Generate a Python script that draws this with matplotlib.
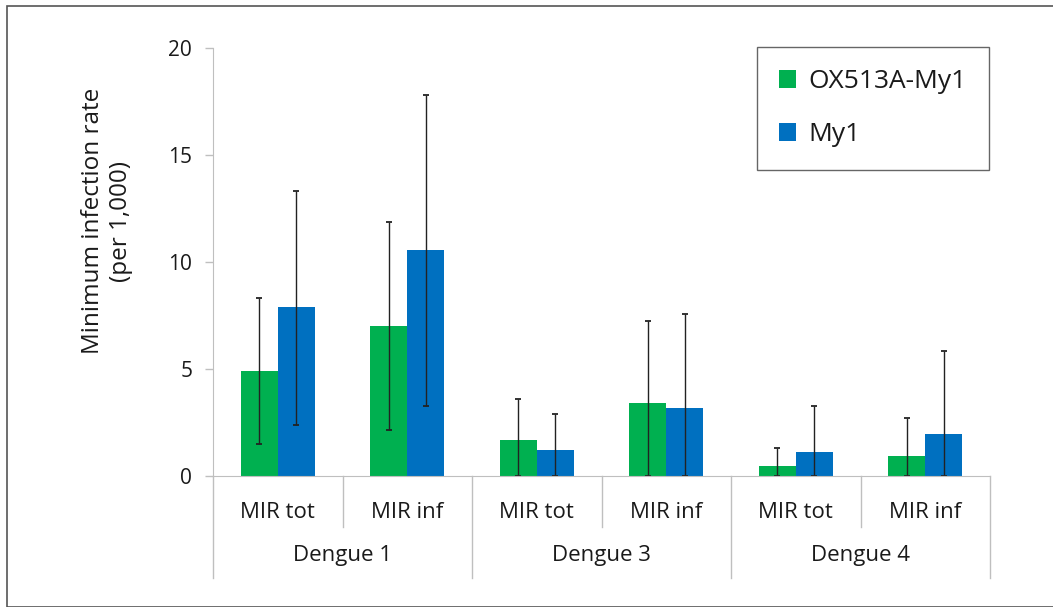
import numpy as np
import matplotlib
matplotlib.use("Agg")
import matplotlib.pyplot as plt
from matplotlib.patches import Rectangle

plt.rcParams['font.family'] = ['Open Sans', 'DejaVu Sans']

# values
groups = ["Dengue 1", "Dengue 3", "Dengue 4"]
measures = ["MIR tot", "MIR inf"]
series_names = ["OX513A-My1", "My1"]

ox513a = [4.9, 7.0, 1.7, 3.4, 0.45, 0.92]
ox513a_lo = [1.5, 2.15, 0.0, 0.0, 0.0, 0.0]
ox513a_hi = [8.3, 11.85, 3.6, 7.25, 1.3, 2.72]

my1 = [7.9, 10.55, 1.2, 3.2, 1.1, 1.97]
my1_lo = [2.4, 3.25, 0.0, 0.0, 0.0, 0.0]
my1_hi = [13.3, 17.8, 2.88, 7.58, 3.28, 5.85]

green = "#00B050"
blue = "#0070C0"
grid_col = "#BFBFBF"
txt_col = "#1a1a1a"

W, H = 1053, 607
fig = plt.figure(figsize=(W / 100, H / 100), dpi=100)
ax = fig.add_axes([213 / W, 1 - 476 / H, (990 - 213) / W, (476 - 48) / H])

x = np.arange(len(ox513a))
bw = 0.287

def errs(v, lo, hi):
    v = np.array(v)
    return np.vstack([v - np.array(lo), np.array(hi) - v])

ekw = dict(elinewidth=1.0, capsize=2.5, capthick=1.3, ecolor="#222222")
ax.bar(x - bw / 2, ox513a, bw, color=green, label=series_names[0],
       yerr=errs(ox513a, ox513a_lo, ox513a_hi), error_kw=ekw)
ax.bar(x + bw / 2, my1, bw, color=blue, label=series_names[1],
       yerr=errs(my1, my1_lo, my1_hi), error_kw=ekw)

ax.set_xlim(-0.5, len(x) - 0.5)
ax.set_ylim(0, 20)
ax.set_yticks([0, 5, 10, 15, 20])
ax.tick_params(axis='y', labelsize=15, length=6, width=1, color=grid_col,
               pad=9, labelcolor=txt_col)
ax.set_xticks([])
for s in ["top", "right"]:
    ax.spines[s].set_visible(False)
ax.spines["left"].set_color(grid_col)
ax.spines["bottom"].set_color(grid_col)

# multi-level category axis
trans = ax.get_xaxis_transform()
short_y = -(527 - 476) / 428
long_y = -(578 - 476) / 428
for i in range(len(x)):
    ax.text(i, -(512 - 476) / 428, measures[i % 2], transform=trans,
            ha="center", va="center", fontsize=16, color=txt_col)
for g, name in enumerate(groups):
    ax.text(2 * g + 0.5, -(556 - 476) / 428, name, transform=trans,
            ha="center", va="center", fontsize=16, color=txt_col)
for b in np.arange(-0.5, len(x), 1.0):
    y_end = long_y if int(b + 0.5) % 2 == 0 else short_y
    ax.plot([b, b], [0, y_end], transform=trans, color=grid_col, lw=1,
            clip_on=False)

fig.text(107 / W, 1 - 221 / H, "Minimum infection rate\n(per 1,000)",
         rotation=90, ha="center", va="center", fontsize=17.5,
         color=txt_col, linespacing=1.2)

leg = ax.legend(loc="upper right", bbox_to_anchor=(989 / W, 1 - 47 / H),
                bbox_transform=fig.transFigure, borderaxespad=0,
                fontsize=19, handlelength=0.65, handleheight=0.65,
                handletextpad=0.45, labelspacing=1.05, borderpad=0.85,
                fancybox=False, frameon=True)
leg.get_frame().set_edgecolor("#404040")
leg.get_frame().set_linewidth(1)
for t in leg.get_texts():
    t.set_color(txt_col)

# outer border of the chart area
fig.patches.append(Rectangle((7 / W, 0), 1.2, 1 - 6 / H,
                             transform=fig.transFigure, fill=False,
                             edgecolor="#555555", lw=1.2))

fig.savefig("out.png", dpi=100)
